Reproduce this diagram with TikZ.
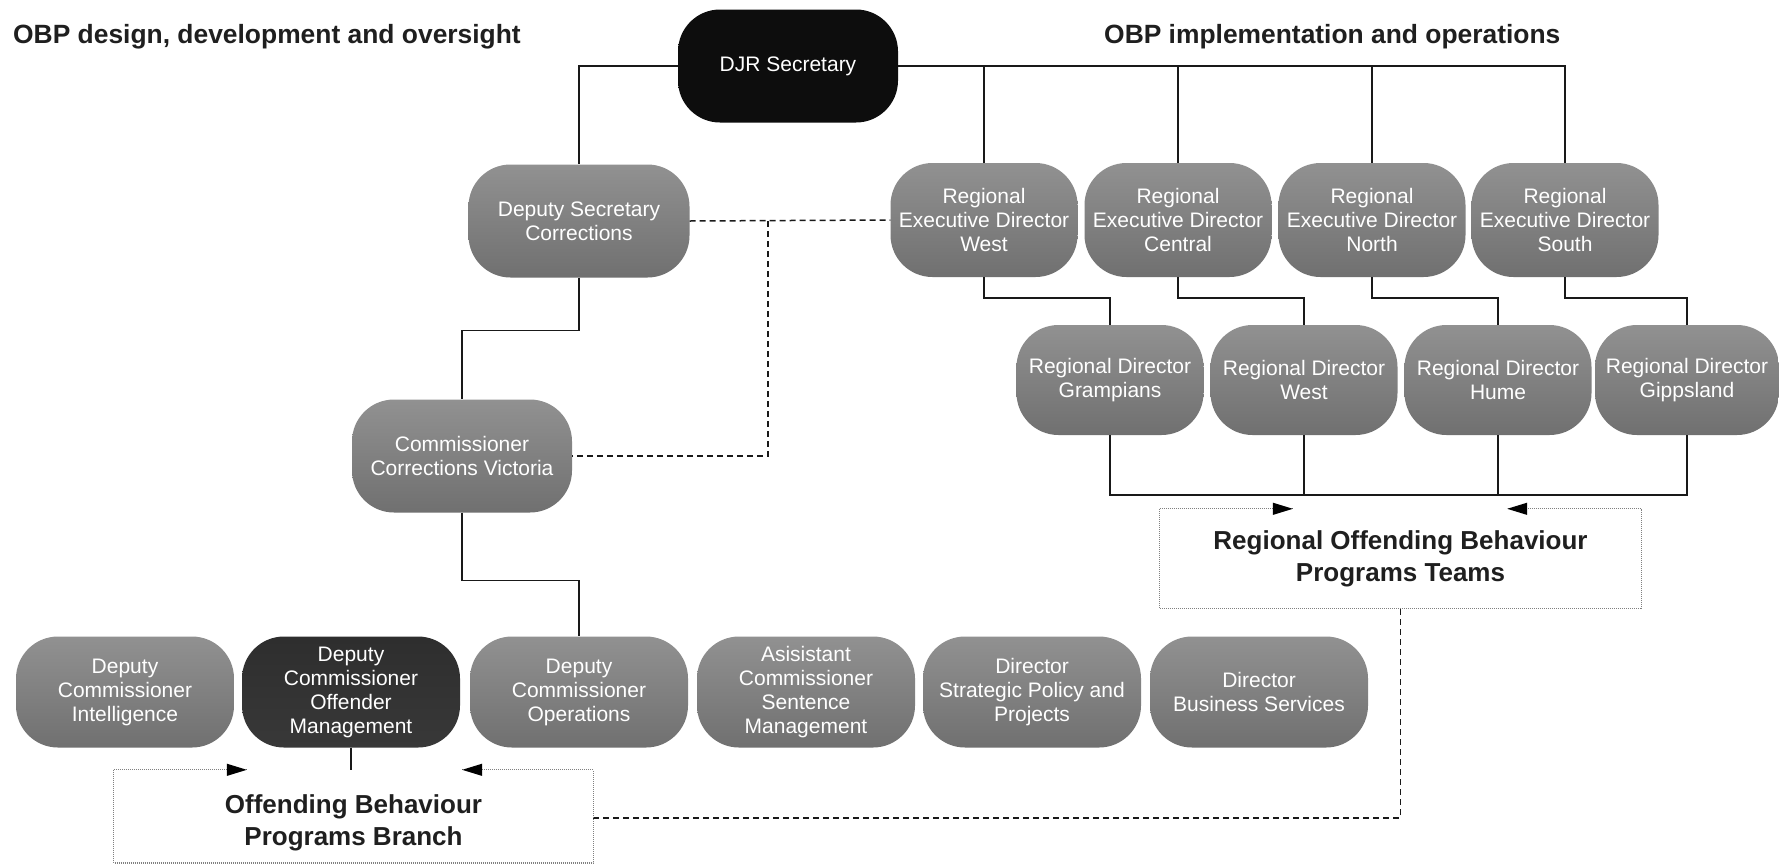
\documentclass[tikz,border=0pt]{standalone}
\usepackage{fontspec}
\setmainfont{Liberation Sans}
\usetikzlibrary{arrows.meta}
\definecolor{boxtop}{HTML}{919191}
\definecolor{boxbot}{HTML}{707070}
\definecolor{dotgray}{HTML}{808080}
\begin{document}
\begin{tikzpicture}[x=1pt,y=-1pt,
  orgbox/.style={rounded corners=42pt, top color=boxtop, bottom color=boxbot,
    text=white, align=center, inner sep=0pt, minimum height=113pt,
    font=\fontsize{21}{24}\selectfont},
  blackbox/.style={orgbox, top color=black!95, bottom color=black!95},
  darkbox/.style={orgbox, top color=black!82, bottom color=black!78},
  conn/.style={line width=1.5pt, black!90},
  dashconn/.style={line width=1.5pt, black!90, dash pattern=on 6pt off 4pt},
  dotline/.style={line width=1.3pt, dotgray, dash pattern=on 1pt off 1pt},
  tipline/.style={line width=1pt, black, -{Triangle[length=20pt,width=12pt]}},
  title/.style={font=\fontsize{26.4}{30}\selectfont\bfseries, text=black!88, inner sep=0pt},
  label/.style={font=\fontsize{26}{32}\selectfont\bfseries, text=black!88, align=center, inner sep=0pt}
]
\useasboundingbox[fill=white] (0,0) rectangle (1779,865);

% titles
\node[title, anchor=west] (t1) at (13,37) {OBP design, development and oversight};
\node[title, anchor=west] (t2) at (1104,37) {OBP implementation and operations};

% top
\node[blackbox, minimum width=220pt] (djr) at (788,66) {DJR Secretary};
\node[orgbox, minimum width=221pt] (dsc) at (579,221) {Deputy Secretary\\Corrections};
\node[orgbox, minimum width=220pt] (com) at (462,456) {Commissioner\\Corrections Victoria};

% regional executive directors
\node[orgbox, minimum width=187pt, minimum height=114pt] (red1) at (984,220) {Regional\\Executive Director\\West};
\node[orgbox, minimum width=187pt, minimum height=114pt] (red2) at (1178,220) {Regional\\Executive Director\\Central};
\node[orgbox, minimum width=187pt, minimum height=114pt] (red3) at (1372,220) {Regional\\Executive Director\\North};
\node[orgbox, minimum width=187pt, minimum height=114pt] (red4) at (1565,220) {Regional\\Executive Director\\South};

% regional directors
\node[orgbox, minimum width=187pt, minimum height=110pt] (rd1) at (1110,380) {Regional Director\\Grampians};
\node[orgbox, minimum width=187pt, minimum height=110pt] (rd2) at (1304,380) {Regional Director\\West};
\node[orgbox, minimum width=187pt, minimum height=110pt] (rd3) at (1498,380) {Regional Director\\Hume};
\node[orgbox, minimum width=184pt, minimum height=110pt] (rd4) at (1687,380) {Regional Director\\Gippsland};

% bottom row
\node[orgbox, minimum width=218pt, minimum height=111pt] (dci) at (125,692) {Deputy\\Commissioner\\Intelligence};
\node[darkbox, minimum width=218pt, minimum height=111pt] (dcom) at (351,692) {Deputy\\Commissioner\\Offender\\Management};
\node[orgbox, minimum width=218pt, minimum height=111pt] (dcop) at (579,692) {Deputy\\Commissioner\\Operations};
\node[orgbox, minimum width=218pt, minimum height=111pt] (acsm) at (806,692) {Asisistant\\Commissioner\\Sentence\\Management};
\node[orgbox, minimum width=218pt, minimum height=111pt] (dspp) at (1032,692) {Director\\Strategic Policy and\\Projects};
\node[orgbox, minimum width=218pt, minimum height=111pt] (dbs) at (1259,692) {Director\\Business Services};

% team boxes
\node[label, minimum width=481pt, minimum height=99pt] (rteam) at (1400.5,558.5) {Regional Offending Behaviour\\Programs Teams};
\node[label, minimum width=479pt, minimum height=106pt] (obpb) at (353.5,823) {Offending Behaviour\\Programs Branch};
\coordinate (obpbot) at (0,863);

% solid connectors
\draw[conn] (djr.west) -| (dsc.north);
\draw[conn] (djr.east) -| (red1.north);
\draw[conn] (djr.east) -| (red2.north);
\draw[conn] (djr.east) -| (red3.north);
\draw[conn] (djr.east) -| (red4.north);
\draw[conn] (dsc.south) -- ++(0,53) -| (com.north);
\draw[conn] (com.south) -- ++(0,68) -| (dcop.north);
\draw[conn] (red1.south) -- ++(0,21) -| (rd1.north);
\draw[conn] (red2.south) -- ++(0,21) -| (rd2.north);
\draw[conn] (red3.south) -- ++(0,21) -| (rd3.north);
\draw[conn] (red4.south) -- ++(0,21) -| (rd4.north);
\coordinate (rdbar) at (1110,495);
\draw[conn] (rd1.south) |- (rdbar -| rd4.south) -- (rd4.south);
\draw[conn] (rd2.south) -- (rd2.south |- rdbar);
\draw[conn] (rd3.south) -- (rd3.south |- rdbar);
\draw[conn] (dcom.south) -- (dcom.south |- obpb.north);

% dashed connectors
\coordinate (dj) at (768,221);
\draw[dashconn] (dsc.east) -- (red1.west);
\draw[dashconn] (dj) |- (com.east);
\draw[dashconn] (obpb.north east) ++(0,48) -| (rteam.south);

% dotted team boxes with arrows
\draw[dotline] (rteam.north west) -- (rteam.south west) -- (rteam.south east) -- (rteam.north east);
\draw[dotline] (rteam.north west) -- ++(133,0) coordinate (ra1);
\draw[dotline] (rteam.north east) -- ++(-134,0) coordinate (ra2);
\draw[tipline] (ra1) ++(-3,0) -- (ra1);
\draw[tipline] (ra2) ++(3,0) -- (ra2);
\draw[dotline] (obpb.north west) -- (obpb.north west |- obpbot) -- (obpb.north east |- obpbot) -- (obpb.north east);
\draw[dotline] (obpb.north west) -- ++(133,0) coordinate (oa1);
\draw[dotline] (obpb.north east) -- ++(-131,0) coordinate (oa2);
\draw[tipline] (oa1) ++(-3,0) -- (oa1);
\draw[tipline] (oa2) ++(3,0) -- (oa2);
\end{tikzpicture}
\end{document}
